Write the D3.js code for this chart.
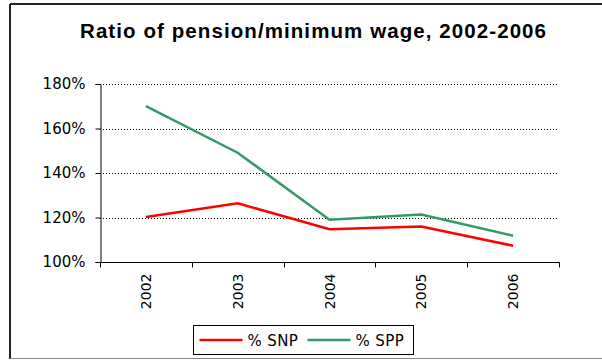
<!DOCTYPE html>
<html>
<head>
<meta charset="utf-8">
<script src="https://cdn.jsdelivr.net/npm/d3@7"></script>
<style>
  html, body { margin: 0; padding: 0; background: #fff; }
  svg { display: block; }
  text { font-family: "DejaVu Sans", Verdana, sans-serif; fill: #000; }
</style>
</head>
<body>
<svg id="chart" width="602" height="360"></svg>
<script>
// Chart data
const years = ["2002", "2003", "2004", "2005", "2006"];
const snp = [120.2, 126.4, 114.7, 115.9, 107.3];
const spp = [170.1, 149.1, 119.0, 121.3, 111.8];
const yTicks = [100, 120, 140, 160, 180];
const seriesNames = ["% SNP", "% SPP"];
const seriesColors = ["#ff0000", "#339966"];

const svg = d3.select("#chart");

// Outer frame: dark top and left edges, grey bottom edge
svg.append("line").attr("x1", 10).attr("x2", 602).attr("y1", 4).attr("y2", 4)
  .attr("stroke", "#222").attr("stroke-width", 2);
svg.append("line").attr("x1", 10).attr("x2", 10).attr("y1", 4).attr("y2", 359)
  .attr("stroke", "#222").attr("stroke-width", 2);
svg.append("line").attr("x1", 10).attr("x2", 602).attr("y1", 358.5).attr("y2", 358.5)
  .attr("stroke", "#888").attr("stroke-width", 1);

// Title
svg.append("text")
  .attr("x", 80).attr("y", 38)
  .attr("textLength", 466)
  .attr("lengthAdjust", "spacing")
  .style("font-family", "'Liberation Sans', Arial, sans-serif")
  .style("font-weight", "bold")
  .style("font-size", "20.5px")
  .text("Ratio of pension/minimum wage, 2002-2006");

const plot = { left: 100, right: 559, top: 84, bottom: 262 };

const x = d3.scaleBand().domain(years).range([plot.left, plot.right]).padding(0);
const y = d3.scaleLinear().domain([100, 180]).range([plot.bottom, plot.top]);

// Dotted gridlines
svg.append("g")
  .selectAll("line")
  .data(yTicks.filter(t => t > 100))
  .join("line")
  .attr("x1", plot.left).attr("x2", plot.right)
  .attr("y1", d => Math.round(y(d)) + 0.5).attr("y2", d => Math.round(y(d)) + 0.5)
  .attr("stroke", "#000").attr("stroke-width", 1)
  .attr("stroke-dasharray", "1,2");

// Y axis
const yAxis = svg.append("g")
  .attr("transform", `translate(${plot.left + 0.5},0)`)
  .call(d3.axisLeft(y).tickValues(yTicks).tickFormat(d => d + "%").tickSize(5).tickPadding(10));
yAxis.select(".domain").attr("stroke", "#000");
yAxis.selectAll("text").style("font-size", "15px").attr("fill", "#000");

// X axis with ticks at category boundaries
const xAxisG = svg.append("g")
  .attr("transform", `translate(0,${plot.bottom + 0.5})`);
xAxisG.append("line")
  .attr("x1", plot.left).attr("x2", plot.right + 0.5)
  .attr("stroke", "#000");
const boundaries = years.map(d => x(d)).concat([x(years[years.length - 1]) + x.bandwidth()]);
xAxisG.selectAll("line.tick")
  .data(boundaries)
  .join("line")
  .attr("class", "tick")
  .attr("x1", d => Math.round(d) + 0.5).attr("x2", d => Math.round(d) + 0.5)
  .attr("y1", 0).attr("y2", 5)
  .attr("stroke", "#000");
xAxisG.selectAll("text")
  .data(years)
  .join("text")
  .attr("transform", d => `translate(${x(d) + x.bandwidth() / 2 + 5},11) rotate(-90)`)
  .attr("text-anchor", "end")
  .style("font-size", "14px")
  .text(d => d);

// Series lines
const line = d3.line()
  .x((d, i) => x(years[i]) + x.bandwidth() / 2)
  .y(d => y(d));

[snp, spp].forEach((vals, i) => {
  svg.append("path")
    .datum(vals)
    .attr("fill", "none")
    .attr("stroke", seriesColors[i])
    .attr("stroke-width", 2.5)
    .attr("d", line);
});

// Legend
const legend = svg.append("g").attr("transform", "translate(193.5,325.5)");
legend.append("rect")
  .attr("width", 220).attr("height", 29)
  .attr("fill", "#fff").attr("stroke", "#000").attr("stroke-width", 1);
const legendItems = [
  { name: seriesNames[0], color: seriesColors[0], x0: 6 },
  { name: seriesNames[1], color: seriesColors[1], x0: 114 }
];
legendItems.forEach(it => {
  legend.append("line")
    .attr("x1", it.x0).attr("x2", it.x0 + 43)
    .attr("y1", 14.5).attr("y2", 14.5)
    .attr("stroke", it.color).attr("stroke-width", 2.5);
  legend.append("text")
    .attr("x", it.x0 + 48).attr("y", 20)
    .style("font-size", "15px")
    .style("letter-spacing", "0.4px")
    .text(it.name);
});
</script>
</body>
</html>
